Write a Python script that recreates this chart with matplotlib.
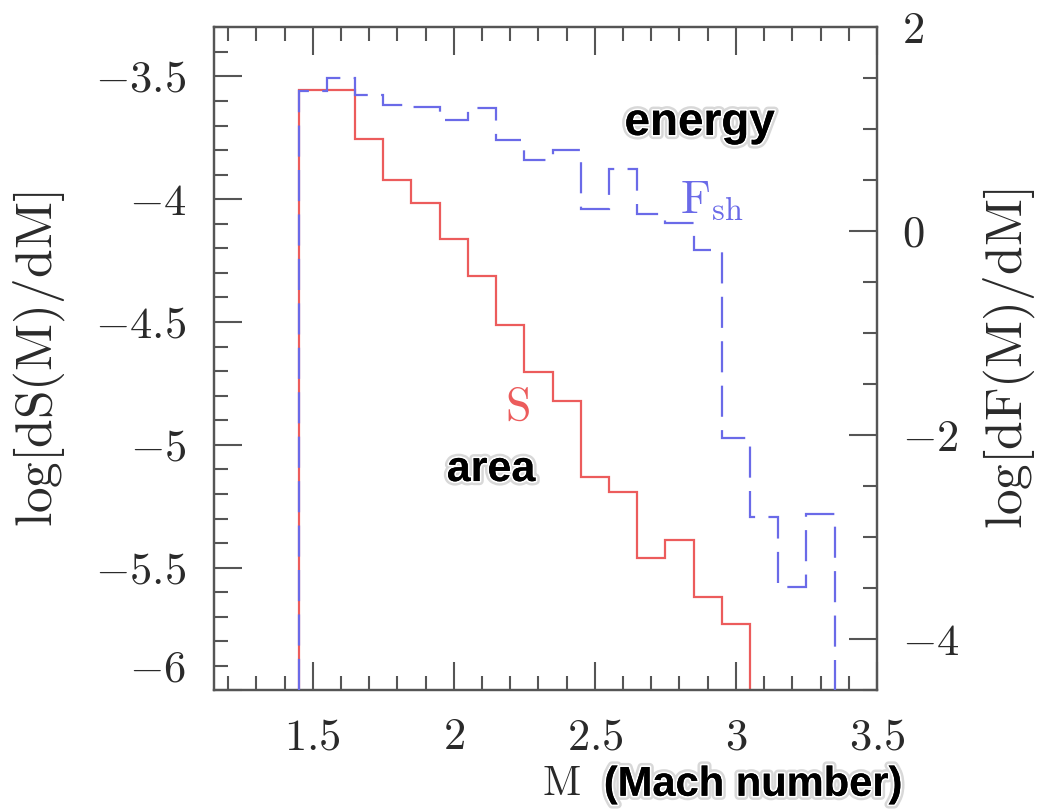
import matplotlib
matplotlib.use("Agg")
import matplotlib.pyplot as plt
import matplotlib.patheffects as pe

plt.rcParams["font.family"] = "serif"
plt.rcParams["font.serif"] = ["cmr10", "DejaVu Serif"]
plt.rcParams["mathtext.fontset"] = "cm"
plt.rcParams["axes.formatter.use_mathtext"] = True

# bin edges in Mach number and histogram values
area_edges = [1.45, 1.55, 1.65, 1.75, 1.85, 1.95, 2.05, 2.15, 2.25,
              2.35, 2.45, 2.55, 2.65, 2.75, 2.85, 2.95, 3.05]
area_logS = [-3.555, -3.555, -3.753, -3.92, -4.015, -4.16, -4.314, -4.514,
             -4.704, -4.822, -5.132, -5.193, -5.461, -5.387, -5.618, -5.73]

energy_edges = [1.45, 1.55, 1.65, 1.75, 1.85, 1.95, 2.05, 2.15, 2.25, 2.35,
                2.45, 2.55, 2.65, 2.75, 2.85, 2.95, 3.05, 3.15, 3.25, 3.35]
energy_logF = [1.38, 1.505, 1.332, 1.234, 1.214, 1.087, 1.205, 0.891, 0.695,
               0.80, 0.222, 0.614, 0.173, 0.085, -0.179, -2.03, -2.798,
               -3.484, -2.772]

xticks = [1.5, 2, 2.5, 3, 3.5]
xtick_labels = ["1.5", "2", "2.5", "3", "3.5"]
left_ticks = [-6, -5.5, -5, -4.5, -4, -3.5]
left_labels = [r"$-6$", r"$-5.5$", r"$-5$", r"$-4.5$", r"$-4$", r"$-3.5$"]
right_ticks = [-4, -2, 0, 2]
right_labels = [r"$-4$", r"$-2$", r"$0$", r"$2$"]

red = "#ec5c5c"
blue = "#6a6ae8"
axis_grey = "#555555"
text_col = "#2a2a2a"

fig = plt.figure(figsize=(10.49, 8.09), dpi=100)
ax = fig.add_axes([0.204, 0.1465, 0.632, 0.8198])
ax2 = ax.twinx()

ax.stairs(area_logS, area_edges, baseline=-6, color=red, lw=1.6, zorder=2)
ax2.stairs(energy_logF, energy_edges, baseline=-4.5, color=blue, lw=1.6,
           linestyle=(0, (14, 6)), zorder=3)

ax.set_xlim(1.15, 3.5)
ax.set_ylim(-6, -3.3)
ax2.set_ylim(-4.5, 2)

ax.set_xticks(xticks, [rf"${t}$" for t in xtick_labels])
ax.set_xticks([1.2 + 0.1 * i for i in range(23)], minor=True)
ax.set_yticks(left_ticks, left_labels)
ax.set_yticks([-6 + 0.1 * i for i in range(28)], minor=True)
ax2.set_yticks(right_ticks, right_labels)
ax2.set_yticks([-4.5 + 0.5 * i for i in range(14)], minor=True)

for a in (ax, ax2):
    for sp in a.spines.values():
        sp.set_color(axis_grey)
        sp.set_linewidth(1.6)

ax.tick_params(axis="both", which="major", direction="in", length=20,
               width=1.5, color=axis_grey, labelsize=32, pad=20,
               labelcolor=text_col)
ax.tick_params(axis="both", which="minor", direction="in", length=10,
               width=1.5, color=axis_grey)
ax.tick_params(axis="x", top=True, which="both")
ax.tick_params(axis="y", right=False, which="both")
ax2.tick_params(axis="y", which="major", direction="in", length=20,
                width=1.5, color=axis_grey, labelsize=32, pad=18,
                labelcolor=text_col)
ax2.tick_params(axis="y", which="minor", direction="in", length=10,
                width=1.5, color=axis_grey)

# bottom label on the left axis sits above its tick
ax.get_yticklabels()[0].set_va("bottom")

ax.set_ylabel(r"$\mathrm{log[dS(M)/dM]}$", fontsize=37, labelpad=20,
              color=text_col)
ax2.set_ylabel(r"$\mathrm{log[dF(M)/dM]}$", fontsize=37, labelpad=16,
               color=text_col)

glow = [pe.withStroke(linewidth=6, foreground="#d8d8d8"),
        pe.withStroke(linewidth=2.5, foreground="white"), pe.Normal()]

fig.text(0.667, 0.848, "energy", family="Liberation Sans", weight="bold",
         fontsize=33, ha="center", va="center", path_effects=glow)
fig.text(0.468, 0.419, "area", family="Liberation Sans", weight="bold",
         fontsize=31, ha="center", va="center", path_effects=glow)
fig.text(0.493, 0.496, r"$\mathrm{S}$", color=red, fontsize=33,
         ha="center", va="center")
fig.text(0.648, 0.737, r"$\mathrm{F}_{\mathrm{sh}}$", color=blue,
         fontsize=33, ha="left", va="baseline")
fig.text(0.535, 0.03, r"$\mathrm{M}$", fontsize=30, ha="center",
         va="center", color=text_col)
fig.text(0.718, 0.03, "(Mach number)", family="Liberation Sans",
         weight="bold", fontsize=30, ha="center", va="center",
         path_effects=glow)

fig.savefig("out.png", dpi=100)
